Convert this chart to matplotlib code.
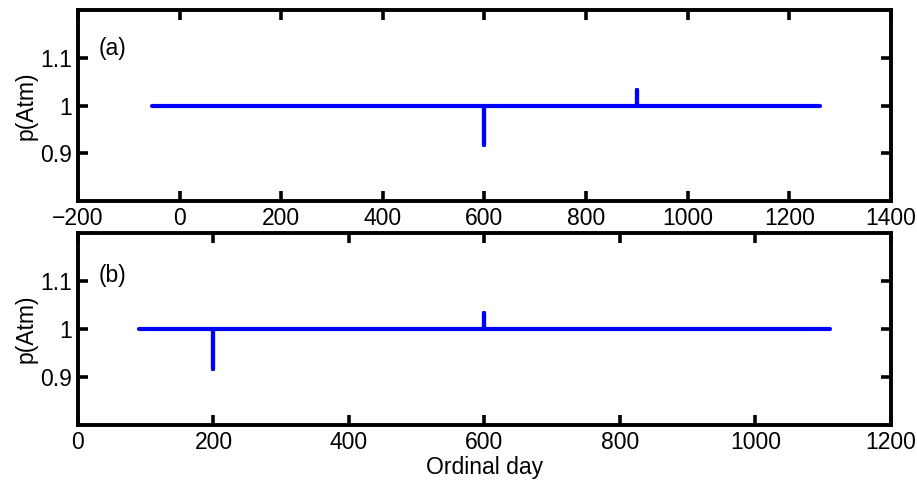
import matplotlib
matplotlib.use("Agg")
import matplotlib.pyplot as plt
import numpy as np

plt.rcParams['font.family'] = ['Liberation Sans', 'DejaVu Sans']

# panel (a): baseline with a dip at day 600 and a bump at day 900
day_a = [-55, 600, 600, 600, 900, 900, 900, 1260]
p_a = [1.0, 1.0, 0.918, 1.0, 1.0, 1.033, 1.0, 1.0]

# panel (b): dip at day 200, bump at day 600
day_b = [90, 200, 200, 200, 600, 600, 600, 1110]
p_b = [1.0, 1.0, 0.916, 1.0, 1.0, 1.034, 1.0, 1.0]

xticks_a = np.arange(-200, 1401, 200)
xticks_b = np.arange(0, 1201, 200)
yticks = [0.9, 1.0, 1.1]
ytick_labels = ['0.9', '1', '1.1']

fs = 16.5

fig = plt.figure(figsize=(9.17, 4.8), dpi=100)
ax1 = fig.add_axes([0.085, 0.581, 0.8866, 0.398])
ax2 = fig.add_axes([0.085, 0.1146, 0.8866, 0.4])

panels = [
    (ax1, day_a, p_a, (-200, 1400), xticks_a, '(a)', 0.80),
    (ax2, day_b, p_b, (0, 1200), xticks_b, '(b)', 0.78),
]
for ax, x, y, xl, xt, tag, ty in panels:
    ax.plot(x, y, color='#0000ff', lw=3, solid_capstyle='round', solid_joinstyle='round')
    ax.set_xlim(*xl)
    ax.set_ylim(0.8, 1.2)
    ax.set_xticks(xt)
    ax.set_yticks(yticks)
    ax.set_yticklabels(ytick_labels)
    ax.tick_params(direction='in', length=7, width=2.6, top=True, right=True,
                   labelsize=fs, pad=4)
    for s in ax.spines.values():
        s.set_linewidth(2.8)
    ax.set_ylabel('p(Atm)', fontsize=fs, labelpad=2)
    ax.text(0.025, ty, tag, transform=ax.transAxes, fontsize=fs, va='center')

ax2.set_xlabel('Ordinal day', fontsize=fs, labelpad=1.5)

fig.savefig('out.png', dpi=100)
